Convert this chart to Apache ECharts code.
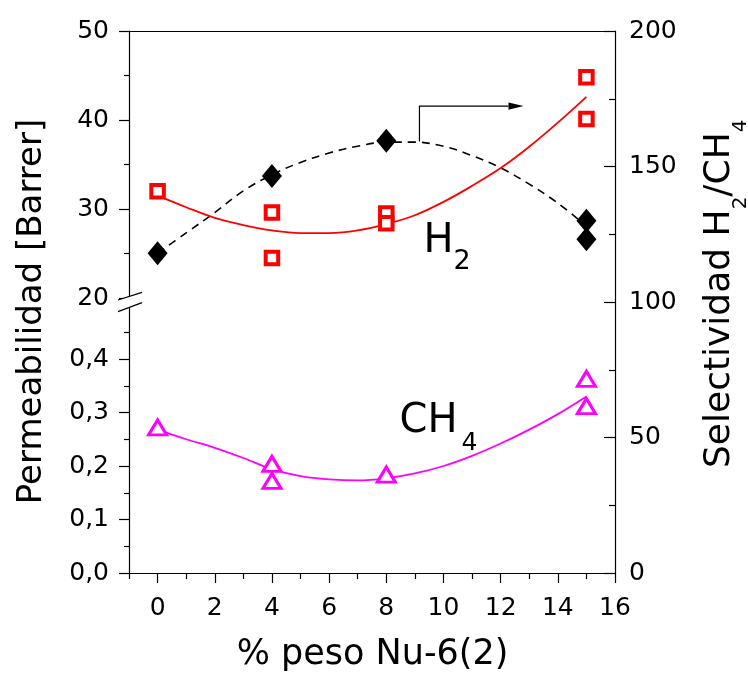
<!DOCTYPE html>
<html><head><meta charset="utf-8">
<script src="https://cdn.jsdelivr.net/npm/echarts@6/dist/echarts.min.js"></script>
<style>html,body{margin:0;padding:0;background:#fff}#c{width:748px;height:673px}</style>
</head><body><div id="c"></div>
<script>
// ---- data ----
const xMajorTicks = [0, 2, 4, 6, 8, 10, 12, 14, 16];
const xMinorTicks = [-1, 1, 3, 5, 7, 9, 11, 13, 15];
const h2X = [0, 4, 4, 8, 8, 15, 15];
const h2Perm = [32.0, 29.6, 24.5, 29.5, 28.4, 44.8, 40.1];
const ch4X = [0, 4, 4, 8, 15, 15];
const ch4Perm = [0.272, 0.204, 0.172, 0.184, 0.363, 0.312];
const selX = [0, 4, 8, 15, 15];
const selVal = [118, 146.5, 159.5, 130, 123.2];
const fitX = [0, 1, 2, 3, 4, 5, 6, 7, 8, 9, 10, 11, 12, 13, 14, 15];
const h2Fit = [31.5, 30.2, 29.0, 28.2, 27.6, 27.3, 27.3, 27.6, 28.3, 29.3, 30.8, 32.6, 34.6, 37.0, 39.7, 42.6];
const ch4Fit = [0.268, 0.25, 0.234, 0.215, 0.194, 0.181, 0.175, 0.173, 0.177, 0.186, 0.200, 0.219, 0.242, 0.268, 0.297, 0.330];
const selFit = [118, 125.5, 133, 141, 147, 151.5, 155, 157.5, 159, 159, 157.5, 154, 149.5, 143.5, 136.5, 128];
const arrowX = [9.16, 9.16, 12.8];
const arrowY = [159.2, 172.3, 172.3];
const yLeftTopTicks = [20, 50, 10];
const yLeftBottomTicks = [0, 0.5, 0.1];
const yRightTicks = [0, 200, 50];

const FONT = '"DejaVu Sans"';
const pairs = (xs, ys) => xs.map((x, i) => [x, ys[i]]);
const chart = echarts.init(document.getElementById('c'), null, {renderer: 'canvas'});
const axisLineStyle = {color: '#000', width: 1.2};
const labelStyle = {color: '#000', fontSize: 25, fontFamily: FONT};

const option = {
  animation: false,
  backgroundColor: '#fff',
  grid: [
    {left: 129, top: 31, width: 486, height: 267},
    {left: 129, top: 305.5, width: 486, height: 267.5},
    {left: 129, top: 31, width: 486, height: 542}
  ],
  xAxis: [
    {gridIndex: 0, type: 'value', min: -1, max: 16, position: 'top',
     axisLine: {show: true, lineStyle: axisLineStyle}, axisTick: {show: false},
     axisLabel: {show: false}, splitLine: {show: false}},
    {gridIndex: 1, type: 'value', min: -1, max: 16, position: 'bottom',
     axisLine: {show: true, onZero: false, lineStyle: axisLineStyle},
     axisTick: {show: true, length: 10, inside: false, customValues: xMajorTicks, lineStyle: axisLineStyle},
     axisLabel: Object.assign({show: true, margin: 23, customValues: xMajorTicks}, labelStyle),
     splitLine: {show: false}},
    {gridIndex: 1, type: 'value', min: -1, max: 16, position: 'bottom',
     axisLine: {show: false, onZero: false},
     axisTick: {show: true, length: 6, inside: false, customValues: xMinorTicks, lineStyle: axisLineStyle},
     axisLabel: {show: false}, splitLine: {show: false}},
    {gridIndex: 2, type: 'value', min: -1, max: 16, show: false}
  ],
  yAxis: [
    {gridIndex: 0, type: 'value', min: yLeftTopTicks[0], max: yLeftTopTicks[1], interval: yLeftTopTicks[2], position: 'left',
     axisLine: {show: true, onZero: false, lineStyle: axisLineStyle},
     axisTick: {show: true, length: 10, inside: false, lineStyle: axisLineStyle},
     minorTick: {show: true, splitNumber: 2, length: 5, lineStyle: axisLineStyle},
     axisLabel: Object.assign({margin: 20}, labelStyle), splitLine: {show: false}},
    {gridIndex: 1, type: 'value', min: yLeftBottomTicks[0], max: yLeftBottomTicks[1], interval: yLeftBottomTicks[2], position: 'left',
     axisLine: {show: true, onZero: false, lineStyle: axisLineStyle},
     axisTick: {show: true, length: 10, inside: false, lineStyle: axisLineStyle},
     minorTick: {show: true, splitNumber: 2, length: 5, lineStyle: axisLineStyle},
     axisLabel: Object.assign({margin: 20, formatter: v => v >= 0.45 ? '' : v.toFixed(1).replace('.', ',')}, labelStyle),
     splitLine: {show: false}},
    {gridIndex: 2, type: 'value', min: yRightTicks[0], max: yRightTicks[1], interval: yRightTicks[2], position: 'right',
     axisLine: {show: true, onZero: false, lineStyle: axisLineStyle},
     axisTick: {show: true, length: 11, inside: true, lineStyle: axisLineStyle},
     minorTick: {show: true, splitNumber: 2, length: 6, lineStyle: axisLineStyle},
     axisLabel: Object.assign({margin: 14}, labelStyle), splitLine: {show: false}}
  ],
  series: [
    {type: 'line', xAxisIndex: 3, yAxisIndex: 2, data: pairs(fitX, selFit), smooth: 0.35, showSymbol: false,
     lineStyle: {color: '#000', width: 1.6, type: [8, 6]}, z: 2},
    {type: 'line', xAxisIndex: 0, yAxisIndex: 0, data: pairs(fitX, h2Fit), smooth: 0.35, showSymbol: false,
     lineStyle: {color: '#ff0000', width: 1.8}, z: 3},
    {type: 'line', xAxisIndex: 1, yAxisIndex: 1, data: pairs(fitX, ch4Fit), smooth: 0.35, showSymbol: false,
     lineStyle: {color: '#ff00ff', width: 1.8}, z: 3},
    {type: 'scatter', xAxisIndex: 3, yAxisIndex: 2, data: pairs(selX, selVal), symbol: 'diamond', symbolSize: [20, 24],
     itemStyle: {color: '#000', opacity: 1}, z: 4},
    {type: 'scatter', xAxisIndex: 0, yAxisIndex: 0, data: pairs(h2X, h2Perm), symbol: 'rect', symbolSize: 12.5,
     itemStyle: {color: '#fff', borderColor: '#ff0000', borderWidth: 4, opacity: 1}, z: 5},
    {type: 'scatter', xAxisIndex: 1, yAxisIndex: 1, data: pairs(ch4X, ch4Perm), symbol: 'triangle', symbolSize: [18, 15],
     itemStyle: {color: '#fff', borderColor: '#ff00ff', borderWidth: 3, opacity: 1}, z: 5}
  ]
};
chart.setOption(option);

// ---- annotations ----
const ctx = document.createElement('canvas').getContext('2d');
function tw(t, size) { ctx.font = size + 'px ' + FONT; return ctx.measureText(t).width; }
function txt(x, y, text, size, align, extra) {
  return Object.assign({type: 'text', x: x, y: y, style: {text: text, font: size + 'px ' + FONT, fill: '#000',
    align: align || 'left', verticalAlign: 'middle', textAlign: align || 'left', textVerticalAlign: 'middle'}, z: 100}, extra || {});
}
const ap = arrowX.map((x, i) => chart.convertToPixel({xAxisIndex: 3, yAxisIndex: 2}, [x, arrowY[i]]));
const tip = ap[2];
const headLen = 15, headHalf = 3.6;
const y20 = chart.convertToPixel({yAxisIndex: 0}, 20);
const axX = chart.convertToPixel({xAxisIndex: 1}, -1);

const mainR = 36, subR = 20;
const seg1 = 'Selectividad H', seg2 = '2', seg3 = '/CH', seg4 = '4';
const w1 = tw(seg1, mainR), w2 = tw(seg2, subR), w3 = tw(seg3, mainR);

chart.setOption({
  graphic: [
    {type: 'polyline', shape: {points: [ap[0], ap[1], [tip[0] - headLen, tip[1]]]},
     style: {stroke: '#000', lineWidth: 1.2, fill: null}, z: 100},
    {type: 'polygon', shape: {points: [tip, [tip[0] - headLen, tip[1] - headHalf], [tip[0] - headLen, tip[1] + headHalf]]},
     style: {fill: '#000'}, z: 100},
    // axis break
    {type: 'polygon', shape: {points: [[axX - 11, y20 + 2], [axX + 13, y20 - 5.7], [axX + 13, y20 + 4.7], [axX - 11, y20 + 13.7]]},
     style: {fill: '#fff'}, z: 100},
    {type: 'line', shape: {x1: axX - 11, y1: y20 + 2, x2: axX + 13, y2: y20 - 5.7}, style: {stroke: '#000', lineWidth: 1.3}, z: 101},
    {type: 'line', shape: {x1: axX - 11, y1: y20 + 13.7, x2: axX + 13, y2: y20 + 4.7}, style: {stroke: '#000', lineWidth: 1.3}, z: 101},
    // labels in plot
    txt(423.5, 241.3, 'H', 40),
    txt(453.5, 262, '2', 27),
    txt(399.5, 421.3, 'CH', 40),
    txt(461.5, 443.5, '4', 25),
    // axis titles
    txt(31.8, 311.5, 'Permeabilidad [Barrer]', 34, 'center', {rotation: Math.PI / 2}),
    txt(372.5, 654.5, '% peso Nu-6(2)', 35, 'center'),
    {type: 'group', x: 730, y: 468, rotation: Math.PI / 2, children: [
      txt(0, -0.3 * mainR, seg1, mainR),
      txt(w1, 16.7 - 0.3 * subR, seg2, subR),
      txt(w1 + w2, -0.3 * mainR, seg3, mainR),
      txt(w1 + w2 + w3, 16.7 - 0.3 * subR, seg4, subR)
    ]}
  ]
});
</script></body></html>
